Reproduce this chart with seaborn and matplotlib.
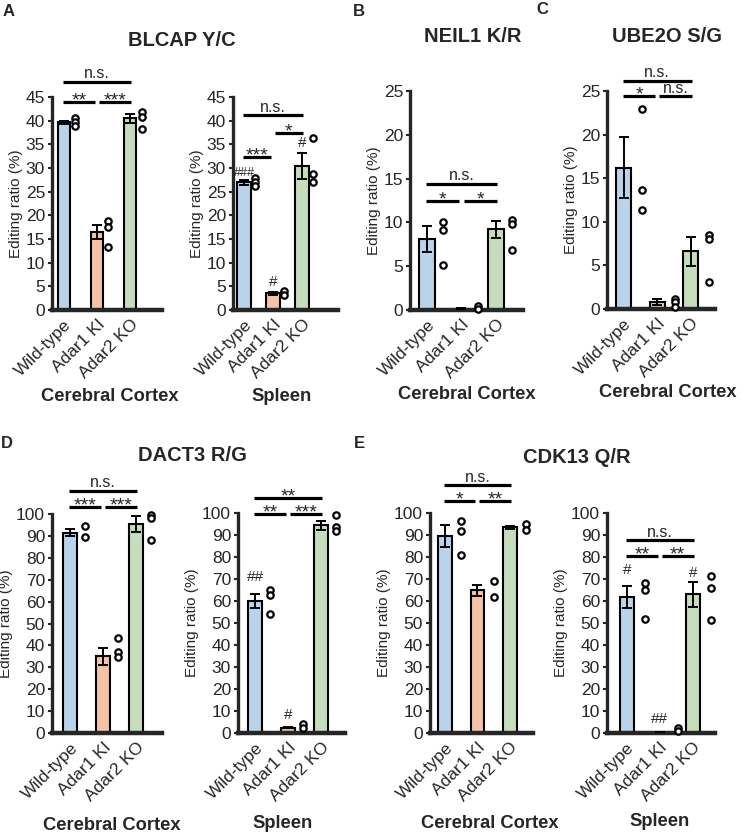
import numpy as np
import matplotlib
matplotlib.use("Agg")
import matplotlib.pyplot as plt
import seaborn as sns

groups = ["Wild-type", "Adar1 KI", "Adar2 KO"]
colors = ["#b8d3ea", "#f4c3a7", "#c6ddbb"]

# BLCAP Y/C, cerebral cortex
blcap_ctx_mean = [39.7, 16.5, 40.5]
blcap_ctx_sem = [0.3, 1.5, 1.0]
blcap_ctx_pts = [[40.5, 39.8, 38.9], [18.7, 17.6, 13.4], [41.9, 40.8, 38.2]]
blcap_ctx_sig = [(0, 2, 48.2, "n.s."), (0, 1, 44.0, "**"), (1, 2, 44.0, "***")]

# BLCAP Y/C, spleen
blcap_spl_mean = [27.0, 3.5, 30.4]
blcap_spl_sem = [0.5, 0.3, 2.8]
blcap_spl_pts = [[27.9, 27.1, 26.2], [4.0, 3.2], [36.4, 28.7, 27.1]]
blcap_spl_sig = [(0, 2, 41.2, "n.s."), (1, 2, 37.5, "*"), (0, 1, 32.4, "***")]
blcap_spl_hash = [(0, 29.0, "###"), (1, 6.0, "#"), (2, 35.2, "#")]

# NEIL1 K/R, cerebral cortex
neil1_mean = [8.1, 0.15, 9.2]
neil1_sem = [1.5, 0.05, 1.0]
neil1_pts = [[10.1, 9.1, 5.1], [0.4, 0.1], [10.3, 9.8, 6.8]]
neil1_sig = [(0, 2, 14.4, "n.s."), (0, 1, 12.4, "*"), (1, 2, 12.4, "*")]

# UBE2O S/G, cerebral cortex
ube2o_mean = [16.2, 0.8, 6.6]
ube2o_sem = [3.5, 0.3, 1.7]
ube2o_pts = [[22.9, 13.7, 11.3], [1.1, 0.8, 0.2], [8.5, 8.0, 3.1]]
ube2o_sig = [(0, 2, 26.2, "n.s."), (0, 1, 24.4, "*"), (1, 2, 24.4, "n.s.")]

# DACT3 R/G, cerebral cortex
dact3_ctx_mean = [91.5, 35.0, 95.5]
dact3_ctx_sem = [1.5, 4.0, 3.5]
dact3_ctx_pts = [[94.4, 89.3], [43.2, 36.8, 34.8], [99.7, 98.2, 88.2]]
dact3_ctx_sig = [(0, 2, 110.7, "n.s."), (0, 1, 103.0, "***"), (1, 2, 103.0, "***")]

# DACT3 R/G, spleen
dact3_spl_mean = [60.0, 2.5, 94.5]
dact3_spl_sem = [3.0, 0.4, 2.0]
dact3_spl_pts = [[64.8, 62.9, 54.2], [4.2, 2.3], [99.2, 93.6, 91.8]]
dact3_spl_sig = [(0, 2, 106.8, "**"), (0, 1, 99.7, "**"), (1, 2, 99.7, "***")]
dact3_spl_hash = [(0, 70.9, "##"), (1, 8.0, "#")]

# CDK13 Q/R, cerebral cortex
cdk13_ctx_mean = [89.5, 65.0, 93.5]
cdk13_ctx_sem = [5.0, 2.5, 0.8]
cdk13_ctx_pts = [[96.2, 91.8, 80.8], [69.1, 61.8], [95.2, 92.4]]
cdk13_ctx_sig = [(0, 2, 112.6, "n.s."), (0, 1, 105.5, "*"), (1, 2, 105.5, "**")]

# CDK13 Q/R, spleen
cdk13_spl_mean = [61.8, 0.5, 63.0]
cdk13_spl_sem = [5.1, 0.1, 5.8]
cdk13_spl_pts = [[68.2, 65.2, 51.7], [2.4, 0.9], [71.4, 66.1, 51.2]]
cdk13_spl_sig = [(0, 2, 87.6, "n.s."), (0, 1, 80.5, "**"), (1, 2, 80.5, "**")]
cdk13_spl_hash = [(0, 74.2, "#"), (1, 6.5, "##"), (2, 72.9, "#")]

W, H = 742, 834
sns.set_style("ticks")
plt.rcParams["font.family"] = ["Liberation Sans", "DejaVu Sans"]

fig = plt.figure(figsize=(W / 100, H / 100), dpi=100)


def make_ax(left, right, top, bottom):
    return fig.add_axes([left / W, 1 - bottom / H, (right - left) / W, (bottom - top) / H])


def draw_panel(ax, mean, sem, pts, sig, ymax, step, xlim, width, off, hashes=()):
    sns.barplot(x=groups, y=mean, hue=groups, palette=colors, width=width,
                edgecolor="black", linewidth=1.5, errorbar=None, legend=False,
                saturation=1, ax=ax)
    x = np.arange(len(groups))
    ax.errorbar(x, mean, yerr=sem, fmt="none", ecolor="black",
                elinewidth=1.4, capsize=3.4, capthick=1.4, zorder=4)
    for i, vals in enumerate(pts):
        ax.plot([i + off] * len(vals), vals, "o", ms=4.6, mfc="white",
                mec="black", mew=1.6, clip_on=False, zorder=5)
    for i, j, h, lab in sig:
        x0 = i + (0.06 if i == 1 else -0.02)
        x1 = j - (0.06 if j == 1 else -0.02)
        ax.plot([x0, x1], [h, h], color="black", lw=2.3, clip_on=False,
                solid_capstyle="butt")
        if lab == "n.s.":
            ax.annotate(lab, ((x0 + x1) / 2, h), xytext=(0, 2.5),
                        textcoords="offset points", ha="center", va="baseline",
                        fontsize=11.5, annotation_clip=False)
        else:
            ax.annotate(lab, ((x0 + x1) / 2, h), xytext=(0, -2.5),
                        textcoords="offset points", ha="center", va="baseline",
                        fontsize=14, annotation_clip=False)
    for i, y, lab in hashes:
        # the triple mark is narrower in the figure
        size = 9 if len(lab) > 2 else 11
        ax.text(i, y, lab, ha="center", va="center", fontsize=size)
    ax.set_ylim(0, ymax)
    ax.set_xlim(*xlim)
    ax.set_yticks(np.arange(0, ymax + 1, step))
    ax.set_xticks(x)
    ax.set_xticklabels(groups, rotation=45, ha="right", rotation_mode="anchor",
                       fontsize=12.5)
    ax.tick_params(axis="x", length=0, pad=5)
    ax.tick_params(axis="y", length=3, width=1.5, labelsize=12.5, pad=2)
    ax.set_xlabel("")
    ax.set_ylabel("Editing ratio (%)", fontsize=11, labelpad=2)
    sns.despine(ax=ax)
    ax.spines["left"].set_linewidth(2.4)
    ax.spines["bottom"].set_linewidth(3.2)
    ax.set_facecolor("none")


ax = make_ax(52, 162, 97, 310)
draw_panel(ax, blcap_ctx_mean, blcap_ctx_sem, blcap_ctx_pts, blcap_ctx_sig,
           45, 5, (-0.36, 2.97), 0.38, 0.35)
ax = make_ax(233, 338, 97, 310)
draw_panel(ax, blcap_spl_mean, blcap_spl_sem, blcap_spl_pts, blcap_spl_sig,
           45, 5, (-0.38, 3.24), 0.46, 0.38, blcap_spl_hash)
ax = make_ax(410, 523, 91, 310)
draw_panel(ax, neil1_mean, neil1_sem, neil1_pts, neil1_sig,
           25, 5, (-0.49, 2.78), 0.45, 0.47)
ax = make_ax(607, 715, 91, 309)
draw_panel(ax, ube2o_mean, ube2o_sem, ube2o_pts, ube2o_sig,
           25, 5, (-0.5, 2.72), 0.44, 0.53)
ax = make_ax(52, 162, 514, 733)
draw_panel(ax, dact3_ctx_mean, dact3_ctx_sem, dact3_ctx_pts, dact3_ctx_sig,
           100, 10, (-0.55, 2.79), 0.41, 0.45)
ax = make_ax(238, 345, 513, 733)
draw_panel(ax, dact3_spl_mean, dact3_spl_sem, dact3_spl_pts, dact3_spl_sig,
           100, 10, (-0.52, 2.73), 0.42, 0.45, dact3_spl_hash)
ax = make_ax(430, 533, 513, 733)
draw_panel(ax, cdk13_ctx_mean, cdk13_ctx_sem, cdk13_ctx_pts, cdk13_ctx_sig,
           100, 10, (-0.46, 2.71), 0.42, 0.5)
ax = make_ax(607, 715, 513, 733)
draw_panel(ax, cdk13_spl_mean, cdk13_spl_sem, cdk13_spl_pts, cdk13_spl_sig,
           100, 10, (-0.6, 2.67), 0.42, 0.55, cdk13_spl_hash)


def ftext(x, y, s, **kw):
    fig.text(x / W, 1 - y / H, s, ha="center", va="center", **kw)


for x, y, s in [(9, 12, "A"), (359, 12, "B"), (542, 10, "C"), (7, 443, "D"), (359, 443, "E")]:
    ftext(x, y, s, fontsize=12, fontweight="bold")

for x, y, s in [(182, 40, "BLCAP Y/C"), (473, 37, "NEIL1 K/R"), (667, 37, "UBE2O S/G"),
                (192, 455, "DACT3 R/G"), (577, 457, "CDK13 Q/R")]:
    ftext(x, y, s, fontsize=14.5, fontweight="bold")

for x, y, s in [(110, 397, "Cerebral Cortex"), (282, 397, "Spleen"),
                (467, 395, "Cerebral Cortex"), (668, 393, "Cerebral Cortex"),
                (112, 825, "Cerebral Cortex"), (283, 823, "Spleen"),
                (490, 823, "Cerebral Cortex"), (660, 822, "Spleen")]:
    ftext(x, y, s, fontsize=13.2, fontweight="bold")

fig.savefig("out.png", dpi=100)
